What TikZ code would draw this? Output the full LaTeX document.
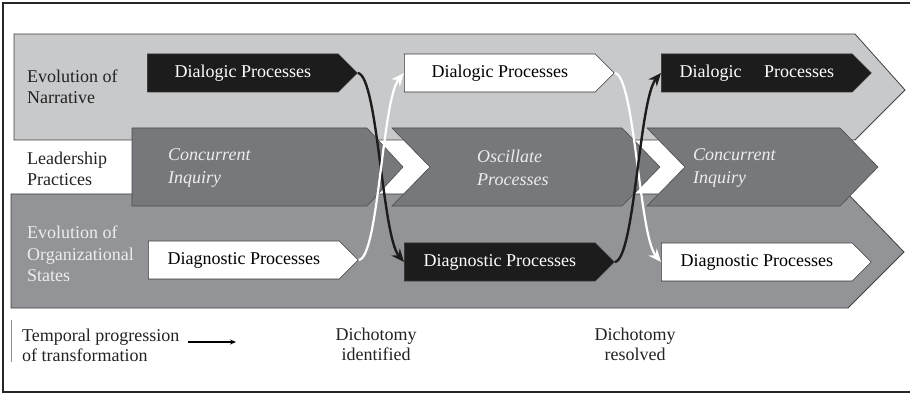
\documentclass[tikz,border=0pt]{standalone}
\usepackage{fontspec}
\setmainfont{Liberation Serif}
\usetikzlibrary{shapes.symbols,arrows.meta}

\definecolor{bandlight}{HTML}{C8C9CB}
\definecolor{banddark}{HTML}{939497}
\definecolor{chevgray}{HTML}{77787B}
\definecolor{boxblack}{HTML}{1C1C1C}
\definecolor{inktext}{HTML}{222222}
\definecolor{palelbl}{HTML}{EDEDED}

\tikzset{
  txt/.style={font=\fontsize{18}{21.5}\selectfont},
  lbl/.style={txt, align=left, inner sep=0pt, anchor=west, text=inktext},
  band/.style={draw=black!75, line width=0.8pt},
  chev/.style={fill=chevgray, draw=black!70, line width=0.6pt},
  proc/.style={signal, signal to=east, signal pointer angle=90,
    minimum height=38pt, minimum width=210pt, inner sep=0pt, txt,
    draw=black!80, line width=0.6pt, anchor=west},
  darkproc/.style={proc, fill=boxblack, text=white},
  lightproc/.style={proc, fill=white, text=black},
  blackflow/.style={line width=2.4pt, draw=boxblack,
    -{Stealth[length=13pt,width=11pt]}},
  whiteflow/.style={line width=2.2pt, draw=white,
    -{Stealth[length=13pt,width=11pt]}}
}

\begin{document}
\begin{tikzpicture}[x=1pt,y=-1pt]
  \useasboundingbox (0,0) rectangle (910,395);
  \draw[line width=1.2pt,black!85] (915,3) -- (3,3) -- (3,392) -- (915,392);

  % bands
  \draw[band,fill=bandlight] (14,34) -- (855,34) -- (905,90) -- (855,140) -- (14,140) -- cycle;
  \draw[band,fill=banddark] (11,194) -- (848,194) -- (904,252) -- (848,308) -- (11,308) -- cycle;

  % leadership chevrons
  \draw[chev] (132,128) -- (367,128) -- (403,167) -- (367,206) -- (132,206) -- cycle;
  \draw[chev] (392,128) -- (622,128) -- (660,167) -- (622,206) -- (392,206) -- (430,167) -- cycle;
  \draw[chev] (647,128) -- (840,128) -- (878,167) -- (840,206) -- (647,206) -- (685,167) -- cycle;

  % row labels
  \node[lbl] (narr) at (27,87) {Evolution of\\Narrative};
  \node[lbl] (lead) at (27,169) {Leadership\\Practices};
  \node[lbl,text=palelbl] (orgs) at (27,254) {Evolution of\\Organizational\\States};

  % chevron texts
  \node[lbl,text=palelbl,font=\fontsize{18}{23}\selectfont\itshape] (conc1) at (168,168) {Concurrent\\Inquiry};
  \node[lbl,text=palelbl,font=\fontsize{18}{23}\selectfont\itshape] (osc) at (477,168) {Oscillate\\Processes};
  \node[lbl,text=palelbl,font=\fontsize{18}{23}\selectfont\itshape] (conc2) at (693,168) {Concurrent\\Inquiry};

  % process boxes
  \node[darkproc] (dia1) at (147,73) {Dialogic Processes};
  \node[lightproc] (dia2) at (404,73) {Dialogic Processes};
  \node[darkproc] (dia3) at (661,73) {Dialogic\hspace{1.25em}Processes};
  \node[lightproc] (dgn1) at (148,260) {Diagnostic Processes};
  \node[darkproc] (dgn2) at (404,262) {Diagnostic Processes};
  \node[lightproc] (dgn3) at (661,262) {Diagnostic Processes};

  % crossing flows
  \draw[blackflow] (dia1.east) .. controls +(20,2) and +(-22,-26) .. (dgn2.west);
  \draw[whiteflow] (dgn1.east) .. controls +(20,-2) and +(-22,26) .. (dia2.west);
  \draw[whiteflow] (dia2.east) .. controls +(20,2) and +(-22,-26) .. (dgn3.west);
  \draw[blackflow] (dgn2.east) .. controls +(20,-2) and +(-22,26) .. (dia3.west);

  % legend
  \draw[black!45,line width=0.8pt] (11,320) -- (11,362);
  \node[lbl,font=\fontsize{18}{20}\selectfont] (temp) at (22,345) {Temporal progression\\of transformation};
  \coordinate (tstart) at (188,342);
  \coordinate (tend) at (236,342);
  \draw[line width=1.3pt,-{Stealth[length=6pt,width=5pt]}] (tstart) -- (tend);
  \node[lbl,align=center,anchor=center,font=\fontsize{18}{20}\selectfont] (ident) at (376,344) {Dichotomy\\identified};
  \node[lbl,align=center,anchor=center,font=\fontsize{18}{20}\selectfont] (resol) at (635,344) {Dichotomy\\resolved};
\end{tikzpicture}
\end{document}
